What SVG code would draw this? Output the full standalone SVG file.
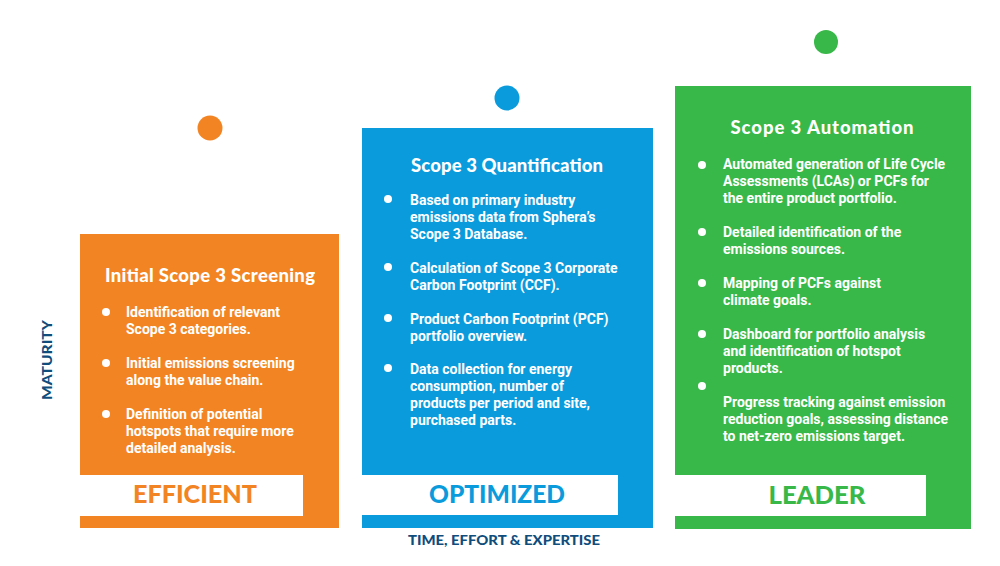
<svg xmlns="http://www.w3.org/2000/svg" width="1000" height="566" viewBox="0 0 1000 566">
<style>
.title{font-family:Lato,"Open Sans","DejaVu Sans",sans-serif;font-weight:900;font-size:18.5px;fill:#fff;text-anchor:middle}
.body{font-family:Roboto,"Liberation Sans",sans-serif;font-weight:700;font-size:14px;fill:#fff}
.band{font-family:Lato,"Open Sans","DejaVu Sans",sans-serif;font-weight:900;font-size:24px;text-anchor:middle}
.axis{font-family:Lato,"Open Sans","DejaVu Sans",sans-serif;font-weight:900;font-size:14px;fill:#0f4d7d;text-anchor:middle}
.dot{fill:#fff}
</style>
<rect width="1000" height="566" fill="#fff"/>
<g id="efficient">
<circle cx="210" cy="128" r="12.5" fill="#f38423"/>
<rect x="80" y="234" width="259" height="294" fill="#f38423"/>
<text class="title" x="210" y="282" textLength="210" lengthAdjust="spacing">Initial Scope 3 Screening</text>
<circle class="dot" cx="106" cy="312" r="4"/>
<text class="body" x="126" y="317">Identification of relevant</text>
<text class="body" x="126" y="334">Scope 3 categories.</text>
<circle class="dot" cx="106" cy="363" r="4"/>
<text class="body" x="126" y="368">Initial emissions screening</text>
<text class="body" x="126" y="385">along the value chain.</text>
<circle class="dot" cx="106" cy="414" r="4"/>
<text class="body" x="126" y="419">Definition of potential</text>
<text class="body" x="126" y="436">hotspots that require more</text>
<text class="body" x="126" y="453">detailed analysis.</text>
<rect x="80" y="475" width="223" height="41" fill="#fff"/>
<text class="band" x="195" y="503" fill="#f38423" textLength="124" lengthAdjust="spacingAndGlyphs">EFFICIENT</text>
</g>
<g id="optimized">
<circle cx="507" cy="98" r="12.5" fill="#0a9bdc"/>
<rect x="362" y="128" width="291" height="400" fill="#0a9bdc"/>
<text class="title" x="507" y="172" textLength="192" lengthAdjust="spacing">Scope 3 Quantification</text>
<circle class="dot" cx="388" cy="199" r="4"/>
<text class="body" x="410" y="205">Based on primary industry</text>
<text class="body" x="410" y="222">emissions data from Sphera’s</text>
<text class="body" x="410" y="239">Scope 3 Database.</text>
<circle class="dot" cx="388" cy="267" r="4"/>
<text class="body" x="410" y="273">Calculation of Scope 3 Corporate</text>
<text class="body" x="410" y="290">Carbon Footprint (CCF).</text>
<circle class="dot" cx="388" cy="318" r="4"/>
<text class="body" x="410" y="324">Product Carbon Footprint (PCF)</text>
<text class="body" x="410" y="341">portfolio overview.</text>
<circle class="dot" cx="388" cy="368" r="4"/>
<text class="body" x="410" y="374">Data collection for energy</text>
<text class="body" x="410" y="391">consumption, number of</text>
<text class="body" x="410" y="408">products per period and site,</text>
<text class="body" x="410" y="425">purchased parts.</text>
<rect x="362" y="475" width="256" height="40" fill="#fff"/>
<text class="band" x="497" y="503" fill="#0a9bdc" textLength="136" lengthAdjust="spacingAndGlyphs">OPTIMIZED</text>
</g>
<g id="leader">
<circle cx="826" cy="42" r="12" fill="#38b848"/>
<rect x="675" y="86" width="296" height="443" fill="#38b848"/>
<text class="title" x="822" y="134" textLength="183" lengthAdjust="spacing">Scope 3 Automation</text>
<circle class="dot" cx="702" cy="165" r="4"/>
<text class="body" x="723" y="169">Automated generation of Life Cycle</text>
<text class="body" x="723" y="186">Assessments (LCAs) or PCFs for</text>
<text class="body" x="723" y="203">the entire product portfolio.</text>
<circle class="dot" cx="702" cy="232" r="4"/>
<text class="body" x="723" y="237">Detailed identification of the</text>
<text class="body" x="723" y="254">emissions sources.</text>
<circle class="dot" cx="702" cy="283" r="4"/>
<text class="body" x="723" y="288">Mapping of PCFs against</text>
<text class="body" x="723" y="305">climate goals.</text>
<circle class="dot" cx="702" cy="334" r="4"/>
<text class="body" x="723" y="339">Dashboard for portfolio analysis</text>
<text class="body" x="723" y="356">and identification of hotspot</text>
<text class="body" x="723" y="373">products.</text>
<circle class="dot" cx="702" cy="386" r="4"/>
<text class="body" x="723" y="407">Progress tracking against emission</text>
<text class="body" x="723" y="424">reduction goals, assessing distance</text>
<text class="body" x="723" y="441">to net-zero emissions target.</text>
<rect x="675" y="475" width="251" height="41" fill="#fff"/>
<text class="band" x="817" y="504" fill="#38b848" textLength="97" lengthAdjust="spacingAndGlyphs">LEADER</text>
</g>
<g id="axes">
<text class="axis" x="504" y="545" textLength="192" lengthAdjust="spacingAndGlyphs">TIME, EFFORT &amp; EXPERTISE</text>
<text class="axis" transform="translate(52,360) rotate(-90)" x="0" y="0" textLength="80" lengthAdjust="spacingAndGlyphs">MATURITY</text>
</g>
</svg>
